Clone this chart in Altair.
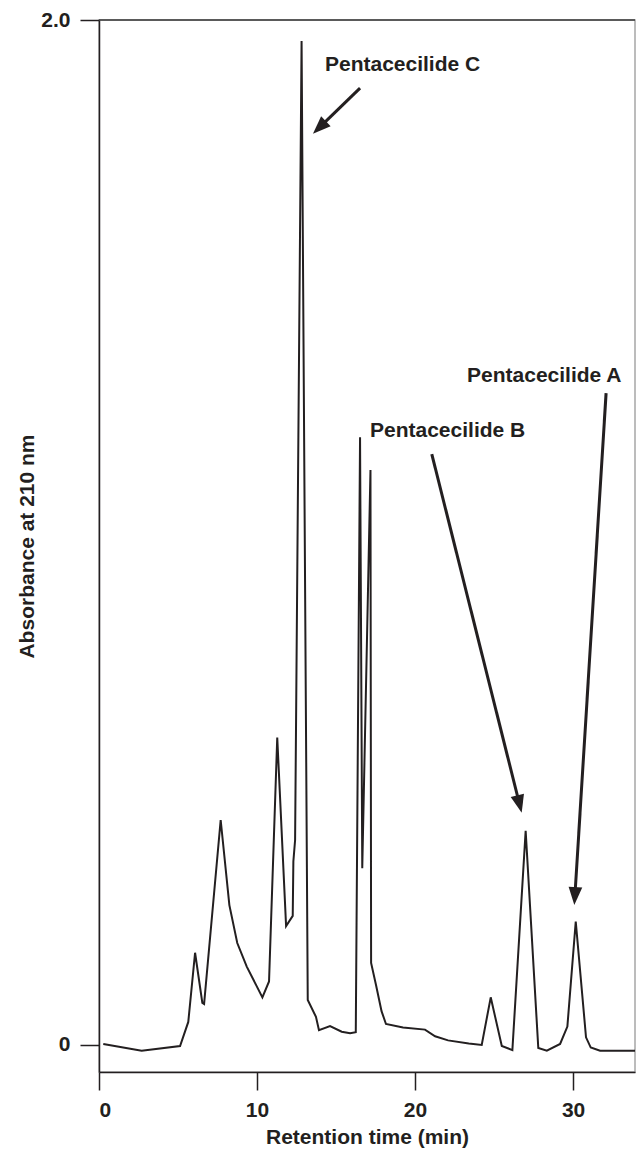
import math
import altair as alt
import pandas as pd

# ---- data ----
time_min = [0.27, 2.70, 5.13, 5.65, 6.08, 6.54, 6.65, 7.70, 8.25, 8.75, 9.35, 10.34,
            10.76, 11.28, 11.84, 12.26, 12.30, 12.41, 12.82, 13.21, 13.73, 13.92,
            14.62, 15.36, 15.89, 16.25, 16.52, 16.66, 17.18, 17.22, 17.53, 17.88,
            18.16, 19.24, 20.63, 21.27, 22.09, 23.40, 24.22, 24.79, 25.49, 26.16,
            27.00, 27.80, 28.34, 29.18, 29.64, 30.17, 30.82, 31.12, 31.71, 33.92]
absorbance = [0.002, -0.011, -0.002, 0.045, 0.180, 0.082, 0.080, 0.439, 0.273, 0.199,
              0.153, 0.093, 0.124, 0.600, 0.232, 0.252, 0.358, 0.400, 1.959, 0.088,
              0.055, 0.029, 0.037, 0.026, 0.023, 0.025, 1.186, 0.345, 1.122, 0.160,
              0.117, 0.066, 0.041, 0.034, 0.030, 0.017, 0.009, 0.003, 0.000, 0.093,
              -0.002, -0.010, 0.418, -0.006, -0.011, 0.002, 0.036, 0.241, 0.015,
              -0.005, -0.011, -0.011]

x_ticks = [0, 10, 20, 30]
y_ticks = [0, 2.0]

label_names = ["Pentacecilide C", "Pentacecilide B", "Pentacecilide A"]
label_x = [14.30, 17.15, 23.29]
label_y = [1.900, 1.186, 1.294]

arrow_x1 = [16.52, 21.06, 32.09]
arrow_y1 = [1.867, 1.153, 1.272]
arrow_x2 = [13.54, 26.75, 30.08]
arrow_y2 = [1.778, 0.453, 0.273]

# ---- layout ----
X_DOMAIN = [0, 33.92]
Y_DOMAIN = [-0.0527, 2.0]
W, H = 536, 1052
INK = "#231f20"
FONT = "Liberation Sans"
FS = 21
HEAD = 18  # arrow head length in px

sx = W / (X_DOMAIN[1] - X_DOMAIN[0])
sy = H / (Y_DOMAIN[1] - Y_DOMAIN[0])

trace = pd.DataFrame({"t": time_min, "a": absorbance, "i": list(range(len(time_min)))})
labels = pd.DataFrame({"name": label_names, "x": label_x, "y": label_y})

arrow_rows = []
for x1, y1, x2, y2 in zip(arrow_x1, arrow_y1, arrow_x2, arrow_y2):
    dxp = (x2 - x1) * sx
    dyp = -(y2 - y1) * sy
    L = math.hypot(dxp, dyp)
    ang = math.degrees(math.atan2(dxp, -dyp)) % 360
    f = (L - HEAD + 2) / L
    arrow_rows.append({
        "x1": x1, "y1": y1,
        "xe": x1 + (x2 - x1) * f, "ye": y1 + (y2 - y1) * f,
        "x2": x2, "y2": y2, "ang": ang,
    })
arrows = pd.DataFrame(arrow_rows)

xs = alt.Scale(domain=X_DOMAIN, nice=False, zero=False)
ys = alt.Scale(domain=Y_DOMAIN, nice=False, zero=False)

line = alt.Chart(trace).mark_line(color=INK, strokeWidth=2, strokeJoin="miter").encode(
    x=alt.X("t:Q", scale=xs,
            axis=alt.Axis(values=x_ticks, title="Retention time (min)", format="d",
                          tickSize=18, labelPadding=9, titlePadding=6)),
    y=alt.Y("a:Q", scale=ys,
            axis=alt.Axis(values=y_ticks, title="Absorbance at 210 nm",
                          labelExpr="datum.value == 0 ? '0' : format(datum.value, '.1f')",
                          tickSize=19, labelPadding=10, titlePadding=3)),
    order="i:Q",
)

top_rule = alt.Chart().mark_rule(color="#3a3a3a", strokeWidth=1.5).encode(
    y=alt.datum(2.0, scale=ys)
)

text = alt.Chart(labels).mark_text(
    align="left", baseline="alphabetic", font=FONT, fontSize=FS,
    fontWeight="bold", color=INK
).encode(x=alt.X("x:Q", scale=xs), y=alt.Y("y:Q", scale=ys), text="name:N")

shafts = alt.Chart(arrows).mark_rule(color=INK, strokeWidth=3).encode(
    x=alt.X("x1:Q", scale=xs), y=alt.Y("y1:Q", scale=ys), x2="xe:Q", y2="ye:Q"
)

heads = alt.Chart(arrows).mark_point(
    shape="M0,0L-0.38,1L0.38,1Z", filled=True, opacity=1, color=INK,
    size=(2 * HEAD) ** 2, strokeWidth=0
).encode(
    x=alt.X("x2:Q", scale=xs), y=alt.Y("y2:Q", scale=ys),
    angle=alt.Angle("ang:Q", scale=None)
)

chart = alt.layer(line, top_rule, shafts, heads, text).properties(
    width=W, height=H,
    autosize=alt.AutoSizeParams(type="none"),
    padding={"left": 99, "top": 20, "right": 1, "bottom": 77},
).configure_view(
    stroke="#a6a6a6", strokeWidth=1.5
).configure_axis(
    grid=False, domainColor=INK, domainWidth=1.5, tickColor=INK, tickWidth=1.5,
    labelFont=FONT, labelFontSize=FS, labelFontWeight="bold", labelColor=INK,
    titleFont=FONT, titleFontSize=FS, titleFontWeight="bold", titleColor=INK,
).configure_axisY(labelAlign="right")

chart.save("out.html", embed_options={"renderer": "svg", "actions": False})
